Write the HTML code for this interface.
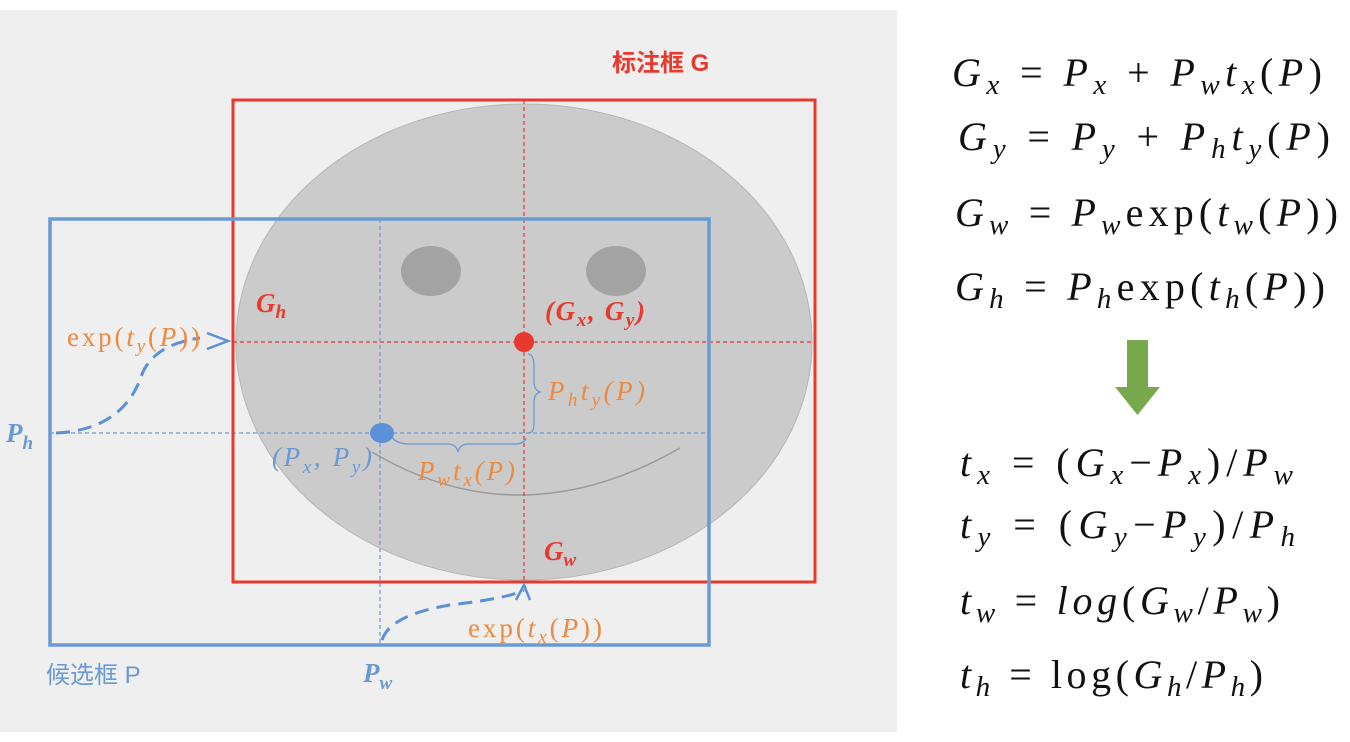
<!DOCTYPE html>
<html><head><meta charset="utf-8"><style>
html,body{margin:0;padding:0;background:#fff;width:1350px;height:742px;overflow:hidden}
svg{display:block}
.cn{font-family:"Liberation Sans","Noto Sans CJK SC",sans-serif}
.m{font-family:"Liberation Serif","DejaVu Serif",serif;font-style:italic}
.eq{font-family:"Liberation Serif","DejaVu Serif",serif;font-size:40px;fill:#111}
</style></head><body>
<svg width="1350" height="742" viewBox="0 0 1350 742">
<rect x="0" y="10" width="897" height="722" fill="#efefef"/>
<ellipse cx="524" cy="342" rx="288" ry="238" fill="#c4c4c4" fill-opacity="0.85" stroke="#b5b5b5"/>
<ellipse cx="431" cy="271" rx="30" ry="25" fill="#a3a3a3"/>
<ellipse cx="616" cy="271" rx="30" ry="25" fill="#a3a3a3"/>
<path d="M372 452 Q520 540 680 448" fill="none" stroke="#9a9a9a" stroke-width="1.5"/>
<g stroke-dasharray="4,3" stroke-width="1.2" fill="none">
<line x1="233" y1="342" x2="815" y2="342" stroke="#e8392d"/>
<line x1="524" y1="100" x2="524" y2="582" stroke="#e8392d"/>
<line x1="50" y1="433" x2="709" y2="433" stroke="#6a9ad4"/>
<line x1="380" y1="219" x2="380" y2="645" stroke="#6a9ad4"/>
</g>
<rect x="233" y="100" width="582" height="482" fill="none" stroke="#e8392d" stroke-width="3"/>
<rect x="50" y="219" width="659" height="426" fill="none" stroke="#6a9ad4" stroke-width="3.5"/>
<circle cx="524" cy="342" r="10" fill="#e8392d"/>
<ellipse cx="382" cy="433" rx="12" ry="10" fill="#5b91d8"/>
<path d="M392 437 Q396 444 410 444 L448 444 Q456 444 458 452 Q460 444 468 444 L515 444 Q524 444 526 438" fill="none" stroke="#6a9ad4" stroke-width="1.3"/>
<path d="M528 354 Q534 354 534 366 L534 382 Q534 390 540 392 Q534 394 534 402 L534 424 Q534 433 528 433" fill="none" stroke="#6a9ad4" stroke-width="1.3"/>
<path d="M56 433 Q120 430 140 380 Q150 345 200 338" fill="none" stroke="#5b91d8" stroke-width="3" stroke-dasharray="14,8"/>
<path d="M207 333 L228 341 L207 349" fill="none" stroke="#5b91d8" stroke-width="2.5"/>
<path d="M382 640 Q390 615 450 605 Q510 598 524 590" fill="none" stroke="#5b91d8" stroke-width="3" stroke-dasharray="14,8"/>
<path d="M516 600 L524 585 L530 600" fill="none" stroke="#5b91d8" stroke-width="2.5"/>
<text x="612" y="71" class="cn" font-size="24" font-weight="bold" fill="#e8392d">标注框 G</text>
<text x="46" y="683" class="cn" font-size="24" fill="#6a9ad4">候选框 P</text>
<g class="m" font-weight="bold" fill="#e8392d" font-size="27">
<text x="256" y="312">G<tspan font-size="19" dy="6">h</tspan></text>
<text x="545" y="320" textLength="100">(G<tspan font-size="19" dy="6">x</tspan><tspan dy="-6">, G</tspan><tspan font-size="19" dy="6">y</tspan><tspan dy="-6">)</tspan></text>
<text x="544" y="560">G<tspan font-size="19" dy="6">w</tspan></text>
</g>
<g class="m" font-weight="bold" fill="#6a9ad4" font-size="27">
<text x="6" y="442">P<tspan font-size="19" dy="7">h</tspan></text>
<text x="363" y="682">P<tspan font-size="19" dy="7">w</tspan></text>
<text x="272" y="466" font-weight="normal" textLength="100">(P<tspan font-size="19" dy="7">x</tspan><tspan dy="-7">, P</tspan><tspan font-size="19" dy="7">y</tspan><tspan dy="-7">)</tspan></text>
</g>
<g font-family="Liberation Serif,serif" fill="#ed8a3f" font-size="27">
<text x="67" y="346" textLength="133">exp(<tspan font-style="italic">t</tspan><tspan font-style="italic" font-size="19" dy="6">y</tspan><tspan dy="-6">(</tspan><tspan font-style="italic">P</tspan>))</text>
<text x="468" y="637" textLength="134">exp(<tspan font-style="italic">t</tspan><tspan font-style="italic" font-size="19" dy="6">x</tspan><tspan dy="-6">(</tspan><tspan font-style="italic">P</tspan>))</text>
<text x="548" y="400" font-style="italic" textLength="97">P<tspan font-size="19" dy="6">h</tspan><tspan dy="-6">t</tspan><tspan font-size="19" dy="6">y</tspan><tspan dy="-6">(P)</tspan></text>
<text x="418" y="480" font-style="italic" textLength="97">P<tspan font-size="19" dy="6">w</tspan><tspan dy="-6">t</tspan><tspan font-size="19" dy="6">x</tspan><tspan dy="-6">(P)</tspan></text>
</g>
<g class="eq">
<text x="952" y="86" textLength="370"><tspan font-style="italic">G</tspan><tspan font-style="italic" font-size="29" dy="8">x</tspan><tspan dy="-8"> =  </tspan><tspan font-style="italic">P</tspan><tspan font-style="italic" font-size="29" dy="8">x</tspan><tspan dy="-8"> +  </tspan><tspan font-style="italic">P</tspan><tspan font-style="italic" font-size="29" dy="8">w</tspan><tspan font-style="italic" dy="-8">t</tspan><tspan font-style="italic" font-size="29" dy="8">x</tspan><tspan dy="-8">(</tspan><tspan font-style="italic">P</tspan>)</text>
<text x="958" y="150" textLength="372"><tspan font-style="italic">G</tspan><tspan font-style="italic" font-size="29" dy="8">y</tspan><tspan dy="-8"> =  </tspan><tspan font-style="italic">P</tspan><tspan font-style="italic" font-size="29" dy="8">y</tspan><tspan dy="-8"> +  </tspan><tspan font-style="italic">P</tspan><tspan font-style="italic" font-size="29" dy="8">h</tspan><tspan font-style="italic" dy="-8">t</tspan><tspan font-style="italic" font-size="29" dy="8">y</tspan><tspan dy="-8">(</tspan><tspan font-style="italic">P</tspan>)</text>
<text x="955" y="226" textLength="383"><tspan font-style="italic">G</tspan><tspan font-style="italic" font-size="29" dy="8">w</tspan><tspan dy="-8"> =  </tspan><tspan font-style="italic">P</tspan><tspan font-style="italic" font-size="29" dy="8">w</tspan><tspan dy="-8">exp(</tspan><tspan font-style="italic">t</tspan><tspan font-style="italic" font-size="29" dy="8">w</tspan><tspan dy="-8">(</tspan><tspan font-style="italic">P</tspan>))</text>
<text x="955" y="300" textLength="370"><tspan font-style="italic">G</tspan><tspan font-style="italic" font-size="29" dy="8">h</tspan><tspan dy="-8"> =  </tspan><tspan font-style="italic">P</tspan><tspan font-style="italic" font-size="29" dy="8">h</tspan><tspan dy="-8">exp(</tspan><tspan font-style="italic">t</tspan><tspan font-style="italic" font-size="29" dy="8">h</tspan><tspan dy="-8">(</tspan><tspan font-style="italic">P</tspan>))</text>
<text x="960" y="476" textLength="333"><tspan font-style="italic">t</tspan><tspan font-style="italic" font-size="29" dy="8">x</tspan><tspan dy="-8"> =  (</tspan><tspan font-style="italic">G</tspan><tspan font-style="italic" font-size="29" dy="8">x</tspan><tspan dy="-8">−</tspan><tspan font-style="italic">P</tspan><tspan font-style="italic" font-size="29" dy="8">x</tspan><tspan dy="-8">)/</tspan><tspan font-style="italic">P</tspan><tspan font-style="italic" font-size="29" dy="8">w</tspan></text>
<text x="960" y="538" textLength="335"><tspan font-style="italic">t</tspan><tspan font-style="italic" font-size="29" dy="8">y</tspan><tspan dy="-8"> =  (</tspan><tspan font-style="italic">G</tspan><tspan font-style="italic" font-size="29" dy="8">y</tspan><tspan dy="-8">−</tspan><tspan font-style="italic">P</tspan><tspan font-style="italic" font-size="29" dy="8">y</tspan><tspan dy="-8">)/</tspan><tspan font-style="italic">P</tspan><tspan font-style="italic" font-size="29" dy="8">h</tspan></text>
<text x="960" y="614" textLength="320"><tspan font-style="italic">t</tspan><tspan font-style="italic" font-size="29" dy="8">w</tspan><tspan dy="-8"> = </tspan><tspan font-style="italic">log</tspan><tspan>(</tspan><tspan font-style="italic">G</tspan><tspan font-style="italic" font-size="29" dy="8">w</tspan><tspan dy="-8">/</tspan><tspan font-style="italic">P</tspan><tspan font-style="italic" font-size="29" dy="8">w</tspan><tspan dy="-8">)</tspan></text>
<text x="960" y="688" textLength="303"><tspan font-style="italic">t</tspan><tspan font-style="italic" font-size="29" dy="8">h</tspan><tspan dy="-8"> = log(</tspan><tspan font-style="italic">G</tspan><tspan font-style="italic" font-size="29" dy="8">h</tspan><tspan dy="-8">/</tspan><tspan font-style="italic">P</tspan><tspan font-style="italic" font-size="29" dy="8">h</tspan><tspan dy="-8">)</tspan></text>
</g>
<path d="M1127 340 H1148 V387 H1160 L1137.5 415 L1115 387 H1127 Z" fill="#78a84c"/>
</svg>
</body></html>
